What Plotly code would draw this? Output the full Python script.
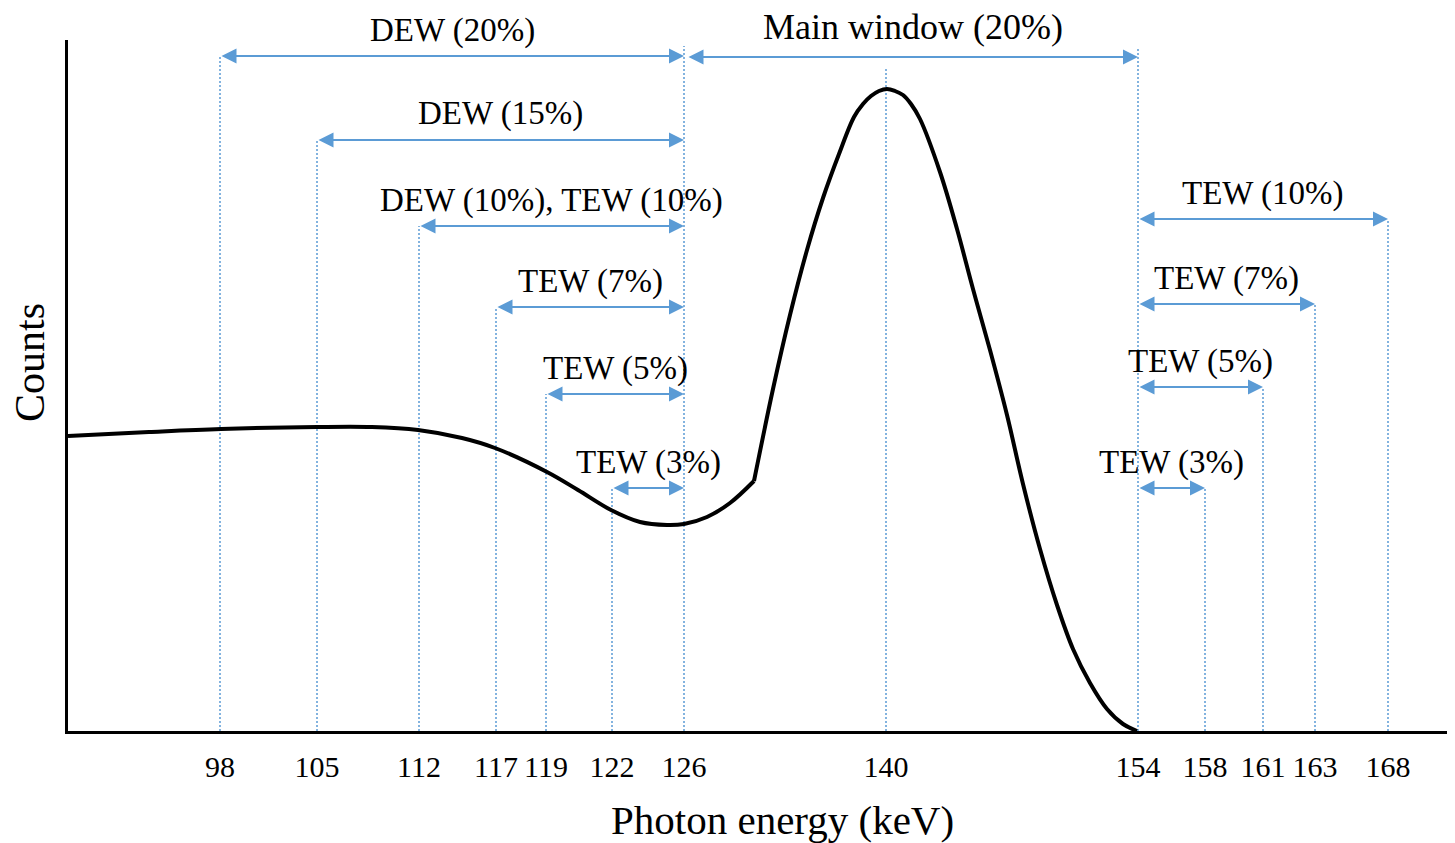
import plotly.graph_objects as go

# ---------------- data ----------------
# energy tick labels (keV) and their schematic positions along the (non-linear) energy axis
energies = [98, 105, 112, 117, 119, 122, 126, 140, 154, 158, 161, 163, 168]
tick_pos = [152, 249, 351, 428, 478, 544, 616, 818, 1070, 1137, 1195, 1247, 1320]

# spectrum curve: scatter/Compton shoulder part, then photopeak part (kink between them)
shoulder_x = [0, 81, 153, 249, 304, 350, 394, 427, 479, 510, 543, 572, 599, 616, 639, 662, 686]
shoulder_y = [295, 299, 302, 304, 304, 301, 293, 283, 259, 241, 221, 209, 206, 207, 214, 228, 250]
peak_x = [686, 705, 722, 739, 755, 771, 786, 795, 803, 811, 819, 827, 835, 843, 852, 872, 889,
          905, 922, 939, 955, 972, 989, 1005, 1022, 1039, 1055, 1069]
peak_y = [250, 342, 416, 481, 533, 577, 614, 627, 635, 640, 642, 640, 636, 627, 612, 559, 502,
          442, 381, 316, 247, 182, 126, 82, 48, 22, 7, 0]

# energy windows: label, lower energy, upper energy, arrow level (counts units)
win_labels = ["DEW (20%)", "Main window (20%)", "DEW (15%)", "DEW (10%), TEW (10%)",
              "TEW (7%)", "TEW (5%)", "TEW (3%)",
              "TEW (10%)", "TEW (7%)", "TEW (5%)", "TEW (3%)"]
win_lo = [98, 126, 105, 112, 117, 119, 122, 154, 154, 154, 154]
win_hi = [126, 154, 126, 126, 126, 126, 126, 168, 163, 161, 158]
win_level = [675, 674, 591, 505, 424, 337, 243, 512, 427, 344, 243]

peak_energy = 140

# ---------------- styles ----------------
BLUE = "#5b9bd5"
FONT = "Liberation Serif, Times New Roman, serif"
X_MAX, Y_MAX = 1380, 691

pos = dict(zip(energies, tick_pos))

fig = go.Figure()

# dotted guide lines
guide_x, guide_y = [], []
for e in energies:
    lv = [win_level[i] for i in range(len(win_labels)) if e in (win_lo[i], win_hi[i])]
    if e == peak_energy:
        top = max(peak_y) + 21
    elif len(lv) > 1:
        top = max(lv) + 10
    else:
        top = max(lv)
    guide_x += [pos[e], pos[e], None]
    guide_y += [0, top, None]
fig.add_trace(go.Scatter(x=guide_x, y=guide_y, mode="lines",
                         line=dict(color=BLUE, width=1.5, dash="2px,2px"),
                         cliponaxis=False, hoverinfo="skip", showlegend=False))

# spectrum
for xs, ys in ((shoulder_x, shoulder_y), (peak_x, peak_y)):
    fig.add_trace(go.Scatter(x=xs, y=ys, mode="lines",
                             line=dict(color="black", width=4, shape="spline", smoothing=1.0),
                             cliponaxis=False, hoverinfo="skip", showlegend=False))

# window arrows and labels
for i, lab in enumerate(win_labels):
    x0, x1, lv = pos[win_lo[i]], pos[win_hi[i]], win_level[i]
    if win_lo[i] == 126:
        x0 += 3
    fig.add_annotation(x=x1, y=lv, ax=x0, ay=lv, xref="x", yref="y", axref="x", ayref="y",
                       text="", showarrow=True, arrowside="end+start", arrowhead=2,
                       arrowsize=1.5, arrowwidth=2, arrowcolor=BLUE, standoff=0, startstandoff=0)
    big = lab.startswith("Main")
    fig.add_annotation(x=(x0 + x1) / 2, y=(lv + (30 if big else 26)) / Y_MAX,
                       xref="x", yref="paper", text=lab, showarrow=False,
                       xanchor="center", yanchor="middle",
                       font=dict(family=FONT, size=36 if big else 33, color="black"))

# axis titles
fig.add_annotation(x=0.5174, y=-0.1288, xref="paper", yref="paper", text="Photon energy (keV)",
                   showarrow=False, xanchor="center", yanchor="middle",
                   font=dict(family=FONT, size=41, color="black"))
fig.add_annotation(x=-0.0275, y=0.5326, xref="paper", yref="paper", text="Counts", textangle=-90,
                   showarrow=False, xanchor="center", yanchor="middle",
                   font=dict(family=FONT, size=42, color="black"))

# page body adds an 8px margin, so the figure is drawn 8px smaller than the window
fig.update_layout(
    width=1447, height=835,
    margin=dict(l=60, r=7, t=32, b=112),
    paper_bgcolor="white", plot_bgcolor="white",
    showlegend=False,
    xaxis=dict(range=[0, X_MAX], showline=True, linewidth=3, linecolor="black",
               showgrid=False, zeroline=False, ticks="",
               tickvals=tick_pos, ticktext=[str(e) for e in energies],
               tickfont=dict(family=FONT, size=30, color="black"), ticklabelstandoff=7),
    yaxis=dict(range=[0, Y_MAX], showline=True, linewidth=3, linecolor="black",
               showgrid=False, zeroline=False, showticklabels=False, ticks=""),
)

fig.write_html("out.html")
